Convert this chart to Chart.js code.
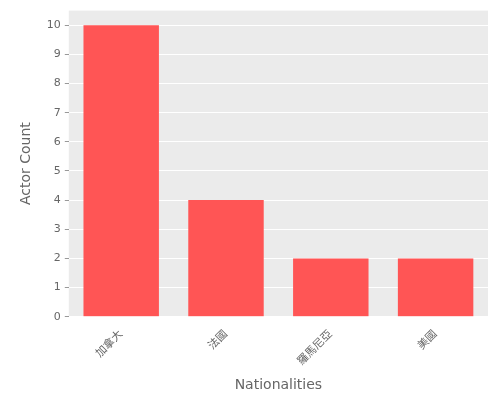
<!DOCTYPE html>
<html><head><meta charset="utf-8">
<script src="https://cdn.jsdelivr.net/npm/chart.js@4"></script>
<style>body{margin:0;background:#fff}#w{width:500px;height:400px}</style>
</head><body><div id="w"><canvas id="c"></canvas></div>
<script>
const categories = ["加拿大","法國","羅馬尼亞","美國"];
const actorCounts = [10,4,2,2];
const yTicks = [0,1,2,3,4,5,6,7,8,9,10];
const bg = {id:'bg',beforeDraw(ch){const a=ch.chartArea,x=ch.ctx;x.save();x.fillStyle='#EBEBEB';x.fillRect(a.left,a.top,a.right-a.left,a.bottom-a.top);x.restore();}};
new Chart(document.getElementById('c'),{
 type:'bar',
 data:{labels:categories,datasets:[{data:actorCounts,backgroundColor:'#FF5555',categoryPercentage:0.72,barPercentage:1}]},
 plugins:[bg],
 options:{responsive:true,maintainAspectRatio:false,animation:false,
  layout:{padding:{top:10,right:12,left:14,bottom:2}},
  plugins:{legend:{display:false},tooltip:{enabled:false}},
  scales:{
   x:{offset:true,grid:{display:false},border:{display:false},
      ticks:{color:'#666',font:{family:"'DejaVu Sans','Noto Sans CJK TC'",size:11},maxRotation:45,minRotation:45},
      title:{display:true,text:'Nationalities',color:'#666',font:{family:'DejaVu Sans',size:14},padding:{top:6}}},
   y:{min:0,max:10.5,afterBuildTicks(s){s.ticks=yTicks.map(v=>({value:v}));},
      grid:{color:'#fff',lineWidth:1,tickLength:4,tickColor:'#999'},border:{display:false},
      ticks:{color:'#666',font:{family:'DejaVu Sans',size:11},padding:4},
      title:{display:true,text:'Actor Count',color:'#666',font:{family:'DejaVu Sans',size:14},padding:{bottom:8}}}
  }}
});
</script></body></html>
